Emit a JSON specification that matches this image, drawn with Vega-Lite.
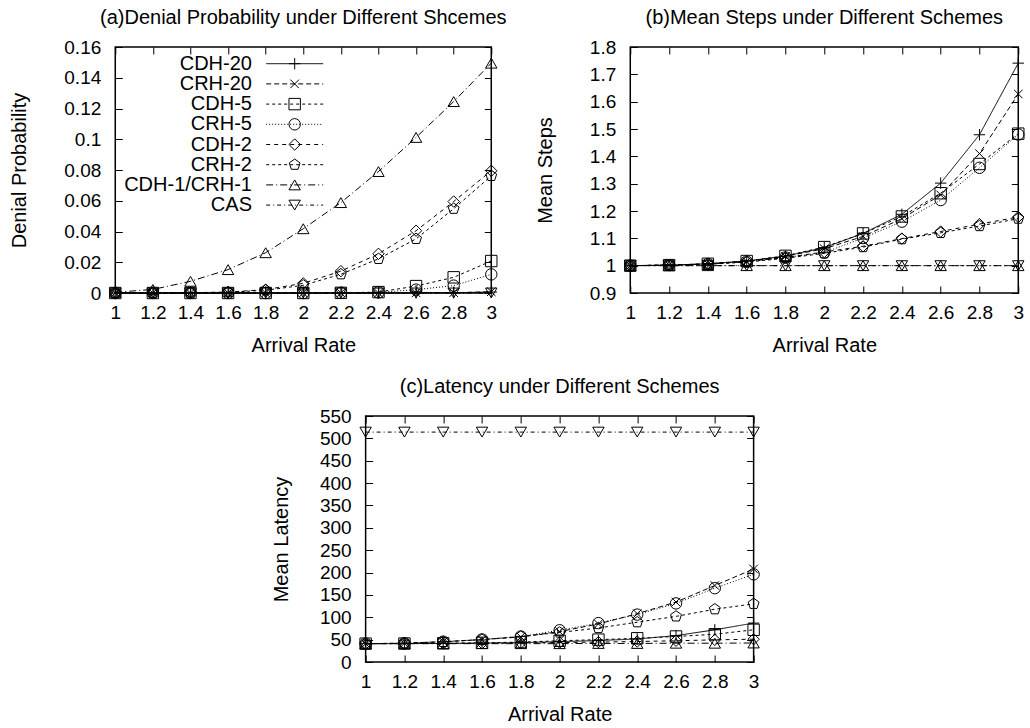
{
  "$schema": "https://vega.github.io/schema/vega-lite/v6.json",
  "padding": {"left": 9, "top": 7, "right": 5, "bottom": 2},
  "data": {"values": [
    {"rate":1,"scheme":"CDH-20","denial":0,"steps":1,"latency":41},
    {"rate":1.2,"scheme":"CDH-20","denial":0,"steps":1.002,"latency":41.2},
    {"rate":1.4,"scheme":"CDH-20","denial":0,"steps":1.007,"latency":41.6},
    {"rate":1.6,"scheme":"CDH-20","denial":0,"steps":1.017,"latency":42.2},
    {"rate":1.8,"scheme":"CDH-20","denial":0,"steps":1.035,"latency":43.3},
    {"rate":2,"scheme":"CDH-20","denial":0,"steps":1.066,"latency":45.5},
    {"rate":2.2,"scheme":"CDH-20","denial":0,"steps":1.118,"latency":48},
    {"rate":2.4,"scheme":"CDH-20","denial":0,"steps":1.188,"latency":51.5},
    {"rate":2.6,"scheme":"CDH-20","denial":0.0001,"steps":1.302,"latency":59},
    {"rate":2.8,"scheme":"CDH-20","denial":0.0002,"steps":1.479,"latency":72},
    {"rate":3,"scheme":"CDH-20","denial":0.0006,"steps":1.741,"latency":87},
    {"rate":1,"scheme":"CRH-20","denial":0,"steps":1,"latency":41},
    {"rate":1.2,"scheme":"CRH-20","denial":0,"steps":1.002,"latency":42},
    {"rate":1.4,"scheme":"CRH-20","denial":0,"steps":1.006,"latency":45.5},
    {"rate":1.6,"scheme":"CRH-20","denial":0,"steps":1.016,"latency":50},
    {"rate":1.8,"scheme":"CRH-20","denial":0,"steps":1.034,"latency":56},
    {"rate":2,"scheme":"CRH-20","denial":0,"steps":1.062,"latency":68},
    {"rate":2.2,"scheme":"CRH-20","denial":0,"steps":1.107,"latency":85},
    {"rate":2.4,"scheme":"CRH-20","denial":0,"steps":1.172,"latency":108},
    {"rate":2.6,"scheme":"CRH-20","denial":0.0001,"steps":1.259,"latency":134},
    {"rate":2.8,"scheme":"CRH-20","denial":0.0002,"steps":1.41,"latency":171},
    {"rate":3,"scheme":"CRH-20","denial":0.0008,"steps":1.628,"latency":208},
    {"rate":1,"scheme":"CDH-5","denial":0,"steps":1,"latency":41},
    {"rate":1.2,"scheme":"CDH-5","denial":0,"steps":1.002,"latency":41.2},
    {"rate":1.4,"scheme":"CDH-5","denial":0,"steps":1.007,"latency":41.8},
    {"rate":1.6,"scheme":"CDH-5","denial":0,"steps":1.017,"latency":42.8},
    {"rate":1.8,"scheme":"CDH-5","denial":0,"steps":1.036,"latency":44.5},
    {"rate":2,"scheme":"CDH-5","denial":0,"steps":1.068,"latency":47.5},
    {"rate":2.2,"scheme":"CDH-5","denial":0.0001,"steps":1.118,"latency":50},
    {"rate":2.4,"scheme":"CDH-5","denial":0.0006,"steps":1.18,"latency":53},
    {"rate":2.6,"scheme":"CDH-5","denial":0.0045,"steps":1.265,"latency":57},
    {"rate":2.8,"scheme":"CDH-5","denial":0.0102,"steps":1.372,"latency":62},
    {"rate":3,"scheme":"CDH-5","denial":0.0208,"steps":1.483,"latency":72},
    {"rate":1,"scheme":"CRH-5","denial":0,"steps":1,"latency":41},
    {"rate":1.2,"scheme":"CRH-5","denial":0,"steps":1.002,"latency":42},
    {"rate":1.4,"scheme":"CRH-5","denial":0,"steps":1.006,"latency":45.5},
    {"rate":1.6,"scheme":"CRH-5","denial":0,"steps":1.015,"latency":50.5},
    {"rate":1.8,"scheme":"CRH-5","denial":0,"steps":1.03,"latency":57},
    {"rate":2,"scheme":"CRH-5","denial":0,"steps":1.048,"latency":71},
    {"rate":2.2,"scheme":"CRH-5","denial":0.0001,"steps":1.101,"latency":87},
    {"rate":2.4,"scheme":"CRH-5","denial":0.0004,"steps":1.161,"latency":106},
    {"rate":2.6,"scheme":"CRH-5","denial":0.0022,"steps":1.24,"latency":131},
    {"rate":2.8,"scheme":"CRH-5","denial":0.0048,"steps":1.358,"latency":165},
    {"rate":3,"scheme":"CRH-5","denial":0.0121,"steps":1.48,"latency":196},
    {"rate":1,"scheme":"CDH-2","denial":0,"steps":1,"latency":41},
    {"rate":1.2,"scheme":"CDH-2","denial":0,"steps":1.002,"latency":41.1},
    {"rate":1.4,"scheme":"CDH-2","denial":0.0002,"steps":1.006,"latency":41.4},
    {"rate":1.6,"scheme":"CDH-2","denial":0.0006,"steps":1.015,"latency":41.9},
    {"rate":1.8,"scheme":"CDH-2","denial":0.0022,"steps":1.03,"latency":42.6},
    {"rate":2,"scheme":"CDH-2","denial":0.0063,"steps":1.05,"latency":43.5},
    {"rate":2.2,"scheme":"CDH-2","denial":0.0142,"steps":1.071,"latency":44.5},
    {"rate":2.4,"scheme":"CDH-2","denial":0.0255,"steps":1.099,"latency":45.8},
    {"rate":2.6,"scheme":"CDH-2","denial":0.0405,"steps":1.125,"latency":47.5},
    {"rate":2.8,"scheme":"CDH-2","denial":0.0595,"steps":1.152,"latency":49.5},
    {"rate":3,"scheme":"CDH-2","denial":0.0795,"steps":1.178,"latency":51},
    {"rate":1,"scheme":"CRH-2","denial":0,"steps":1,"latency":41},
    {"rate":1.2,"scheme":"CRH-2","denial":0,"steps":1.002,"latency":42},
    {"rate":1.4,"scheme":"CRH-2","denial":0.0002,"steps":1.005,"latency":45},
    {"rate":1.6,"scheme":"CRH-2","denial":0.0005,"steps":1.013,"latency":50},
    {"rate":1.8,"scheme":"CRH-2","denial":0.0018,"steps":1.027,"latency":57},
    {"rate":2,"scheme":"CRH-2","denial":0.005,"steps":1.045,"latency":66},
    {"rate":2.2,"scheme":"CRH-2","denial":0.0122,"steps":1.068,"latency":76},
    {"rate":2.4,"scheme":"CRH-2","denial":0.0222,"steps":1.097,"latency":89},
    {"rate":2.6,"scheme":"CRH-2","denial":0.0352,"steps":1.12,"latency":102},
    {"rate":2.8,"scheme":"CRH-2","denial":0.0548,"steps":1.145,"latency":118},
    {"rate":3,"scheme":"CRH-2","denial":0.0762,"steps":1.172,"latency":130},
    {"rate":1,"scheme":"CDH-1/CRH-1","denial":0.0005,"steps":1,"latency":41},
    {"rate":1.2,"scheme":"CDH-1/CRH-1","denial":0.0023,"steps":1,"latency":41},
    {"rate":1.4,"scheme":"CDH-1/CRH-1","denial":0.0076,"steps":1,"latency":41},
    {"rate":1.6,"scheme":"CDH-1/CRH-1","denial":0.0152,"steps":1,"latency":41},
    {"rate":1.8,"scheme":"CDH-1/CRH-1","denial":0.0262,"steps":1,"latency":41},
    {"rate":2,"scheme":"CDH-1/CRH-1","denial":0.0418,"steps":1,"latency":41},
    {"rate":2.2,"scheme":"CDH-1/CRH-1","denial":0.0588,"steps":1,"latency":41.5},
    {"rate":2.4,"scheme":"CDH-1/CRH-1","denial":0.079,"steps":1,"latency":41.5},
    {"rate":2.6,"scheme":"CDH-1/CRH-1","denial":0.1012,"steps":1,"latency":42},
    {"rate":2.8,"scheme":"CDH-1/CRH-1","denial":0.1245,"steps":1,"latency":42},
    {"rate":3,"scheme":"CDH-1/CRH-1","denial":0.1495,"steps":1,"latency":42.5},
    {"rate":1,"scheme":"CAS","denial":0,"steps":1,"latency":514},
    {"rate":1.2,"scheme":"CAS","denial":0,"steps":1,"latency":514},
    {"rate":1.4,"scheme":"CAS","denial":0,"steps":1,"latency":514},
    {"rate":1.6,"scheme":"CAS","denial":0,"steps":1,"latency":514},
    {"rate":1.8,"scheme":"CAS","denial":0,"steps":1,"latency":514},
    {"rate":2,"scheme":"CAS","denial":0,"steps":1,"latency":514},
    {"rate":2.2,"scheme":"CAS","denial":0,"steps":1,"latency":514},
    {"rate":2.4,"scheme":"CAS","denial":0,"steps":1,"latency":514},
    {"rate":2.6,"scheme":"CAS","denial":0,"steps":1,"latency":514},
    {"rate":2.8,"scheme":"CAS","denial":0,"steps":1,"latency":514},
    {"rate":3,"scheme":"CAS","denial":0,"steps":1,"latency":514}
  ]},
  "vconcat": [
    {
      "hconcat": [
        {
          "width": 376, "height": 246,
          "title": {"text": "(a)Denial Probability under Different Shcemes"},
          "layer": [
            {
              "mark": {"type": "line", "color": "black", "strokeWidth": 1, "clip": false},
              "encoding": {
                "x": {"field": "rate", "type": "quantitative", "scale": {"domain": [1, 3], "nice": false, "zero": false},
                      "axis": {"orient": "bottom", "values": [1,1.2,1.4,1.6,1.8,2,2.2,2.4,2.6,2.8,3], "labelExpr": "'' + datum.value", "title": "Arrival Rate", "labelPadding": 10, "titlePadding": 13}},
                "y": {"field": "denial", "type": "quantitative", "scale": {"domain": [0, 0.16], "nice": false},
                      "axis": {"orient": "left", "values": [0,0.02,0.04,0.06,0.08,0.1,0.12,0.14,0.16], "labelExpr": "'' + datum.value", "title": "Denial Probability", "labelPadding": 14.5, "titlePadding": 34}},
                "strokeDash": {"field": "scheme", "type": "nominal",
                  "scale": {"domain": ["CDH-20","CRH-20","CDH-5","CRH-5","CDH-2","CRH-2","CDH-1/CRH-1","CAS"],
                            "range": [[1,0],[5,3],[3,3],[1,2],[4,4],[3,3],[7,3,1,3],[4,3,1,3]]},
                  "legend": {"orient": "none", "legendX": 169.4, "legendY": 6.7, "title": null, "padding": 0,
                             "symbolType": "M-3,0H3", "symbolSize": 361, "symbolStrokeColor": "black", "symbolStrokeWidth": 1,
                             "labelFontSize": 20, "labelColor": "black", "labelAlign": "right", "labelOffset": -52.7,
                             "rowPadding": 0.2, "symbolOffset": 0}}
              }
            },
            {
              "mark": {"type": "point", "filled": false, "color": "black", "size": 130, "strokeWidth": 1, "opacity": 1, "clip": false},
              "encoding": {
                "x": {"field": "rate", "type": "quantitative", "scale": {"domain": [1, 3], "nice": false, "zero": false},
                      "axis": {"orient": "top", "values": [1,1.2,1.4,1.6,1.8,2,2.2,2.4,2.6,2.8,3], "labels": false, "title": null}},
                "y": {"field": "denial", "type": "quantitative", "scale": {"domain": [0, 0.16], "nice": false},
                      "axis": {"orient": "right", "values": [0,0.02,0.04,0.06,0.08,0.1,0.12,0.14,0.16], "labels": false, "title": null}},
                "shape": {"field": "scheme", "type": "nominal",
                  "sort": ["CDH-20","CRH-20","CDH-5","CRH-5","CDH-2","CRH-2","CDH-1/CRH-1","CAS"],
                  "scale": {"range": ["M-1,0H1M0,-1V1","M-0.75,-0.75L0.75,0.75M-0.75,0.75L0.75,-0.75","square","circle","diamond","M0,-1L0.951,-0.309L0.588,0.809L-0.588,0.809L-0.951,-0.309Z","triangle-up","triangle-down"]},
                  "legend": {"orient": "none", "legendX": 169.4, "legendY": 6.7, "padding": 0, "title": null,
                             "symbolSize": 130, "symbolStrokeColor": "black", "symbolStrokeWidth": 1, "symbolFillColor": "white",
                             "labelFontSize": 20, "labelOpacity": 0, "rowPadding": 0.2, "symbolOffset": 0}}
              }
            }
          ],
          "resolve": {"axis": {"x": "independent", "y": "independent"}}
        },
        {
          "width": 388, "height": 246,
          "title": {"text": "(b)Mean Steps under Different Schemes"},
          "layer": [
            {
              "mark": {"type": "line", "color": "black", "strokeWidth": 1, "clip": false},
              "encoding": {
                "x": {"field": "rate", "type": "quantitative", "scale": {"domain": [1, 3], "nice": false, "zero": false},
                      "axis": {"orient": "bottom", "values": [1,1.2,1.4,1.6,1.8,2,2.2,2.4,2.6,2.8,3], "labelExpr": "'' + datum.value", "title": "Arrival Rate", "labelPadding": 10, "titlePadding": 13}},
                "y": {"field": "steps", "type": "quantitative", "scale": {"domain": [0.9, 1.8], "nice": false, "zero": false},
                      "axis": {"orient": "left", "values": [0.9,1,1.1,1.2,1.3,1.4,1.5,1.6,1.7,1.8], "labelExpr": "'' + datum.value", "title": "Mean Steps", "labelPadding": 14.5, "titlePadding": 34}},
                "strokeDash": {"field": "scheme", "type": "nominal",
                  "scale": {"domain": ["CDH-20","CRH-20","CDH-5","CRH-5","CDH-2","CRH-2","CDH-1/CRH-1","CAS"],
                            "range": [[1,0],[5,3],[3,3],[1,2],[4,4],[3,3],[7,3,1,3],[4,3,1,3]]},
                  "legend": null}
              }
            },
            {
              "mark": {"type": "point", "filled": false, "color": "black", "size": 130, "strokeWidth": 1, "opacity": 1, "clip": false},
              "encoding": {
                "x": {"field": "rate", "type": "quantitative", "scale": {"domain": [1, 3], "nice": false, "zero": false},
                      "axis": {"orient": "top", "values": [1,1.2,1.4,1.6,1.8,2,2.2,2.4,2.6,2.8,3], "labels": false, "title": null}},
                "y": {"field": "steps", "type": "quantitative", "scale": {"domain": [0.9, 1.8], "nice": false, "zero": false},
                      "axis": {"orient": "right", "values": [0.9,1,1.1,1.2,1.3,1.4,1.5,1.6,1.7,1.8], "labels": false, "title": null}},
                "shape": {"field": "scheme", "type": "nominal",
                  "sort": ["CDH-20","CRH-20","CDH-5","CRH-5","CDH-2","CRH-2","CDH-1/CRH-1","CAS"],
                  "scale": {"range": ["M-1,0H1M0,-1V1","M-0.75,-0.75L0.75,0.75M-0.75,0.75L0.75,-0.75","square","circle","diamond","M0,-1L0.951,-0.309L0.588,0.809L-0.588,0.809L-0.951,-0.309Z","triangle-up","triangle-down"]},
                  "legend": null}
              }
            }
          ],
          "resolve": {"axis": {"x": "independent", "y": "independent"}}
        }
      ],
      "spacing": 139,
      "bounds": "flush",
      "resolve": {"scale": {"shape": "independent", "strokeDash": "independent"}}
    },
    {
      "width": 388, "height": 246,
      "title": {"text": "(c)Latency under Different Schemes"},
      "layer": [
        {
          "mark": {"type": "line", "color": "black", "strokeWidth": 1, "clip": false},
          "encoding": {
            "x": {"field": "rate", "type": "quantitative", "scale": {"domain": [1, 3], "nice": false, "zero": false},
                  "axis": {"orient": "bottom", "values": [1,1.2,1.4,1.6,1.8,2,2.2,2.4,2.6,2.8,3], "labelExpr": "'' + datum.value", "title": "Arrival Rate", "labelPadding": 10, "titlePadding": 13}},
            "y": {"field": "latency", "type": "quantitative", "scale": {"domain": [0, 550], "nice": false},
                  "axis": {"orient": "left", "values": [0,50,100,150,200,250,300,350,400,450,500,550], "labelExpr": "'' + datum.value", "title": "Mean Latency", "labelPadding": 14.5, "titlePadding": 28}},
            "strokeDash": {"field": "scheme", "type": "nominal",
              "scale": {"domain": ["CDH-20","CRH-20","CDH-5","CRH-5","CDH-2","CRH-2","CDH-1/CRH-1","CAS"],
                        "range": [[1,0],[5,3],[3,3],[1,2],[4,4],[3,3],[7,3,1,3],[4,3,1,3]]},
              "legend": null}
          }
        },
        {
          "mark": {"type": "point", "filled": false, "color": "black", "size": 130, "strokeWidth": 1, "opacity": 1, "clip": false},
          "encoding": {
            "x": {"field": "rate", "type": "quantitative", "scale": {"domain": [1, 3], "nice": false, "zero": false},
                  "axis": {"orient": "top", "values": [1,1.2,1.4,1.6,1.8,2,2.2,2.4,2.6,2.8,3], "labels": false, "title": null}},
            "y": {"field": "latency", "type": "quantitative", "scale": {"domain": [0, 550], "nice": false},
                  "axis": {"orient": "right", "values": [0,50,100,150,200,250,300,350,400,450,500,550], "labels": false, "title": " ", "titleFontSize": 1, "titlePadding": 20.5}},
            "shape": {"field": "scheme", "type": "nominal",
              "sort": ["CDH-20","CRH-20","CDH-5","CRH-5","CDH-2","CRH-2","CDH-1/CRH-1","CAS"],
              "scale": {"range": ["M-1,0H1M0,-1V1","M-0.75,-0.75L0.75,0.75M-0.75,0.75L0.75,-0.75","square","circle","diamond","M0,-1L0.951,-0.309L0.588,0.809L-0.588,0.809L-0.951,-0.309Z","triangle-up","triangle-down"]},
              "legend": null}
          }
        }
      ],
      "resolve": {"axis": {"x": "independent", "y": "independent"}}
    }
  ],
  "spacing": 20,
  "center": true,
  "resolve": {"scale": {"shape": "independent", "strokeDash": "independent"}},
  "config": {
    "font": "Liberation Sans",
    "view": {"stroke": "black", "strokeWidth": 1.5},
    "axis": {"domain": false, "grid": false, "tickColor": "black", "tickSize": 7, "offset": -7, "tickWidth": 1,
             "labelFontSize": 19, "labelColor": "black", "titleFontSize": 20, "titleFontWeight": "normal",
             "titleColor": "black", "labelFlush": false},
    "title": {"fontSize": 20, "fontWeight": "normal", "color": "black", "offset": 10}
  }
}
